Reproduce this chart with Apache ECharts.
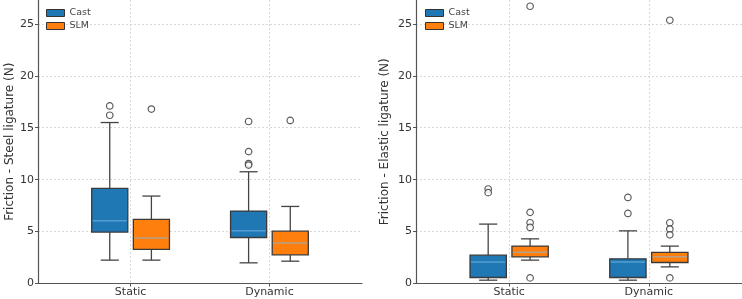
<!DOCTYPE html>
<html>
<head>
<meta charset="utf-8">
<script src="https://cdn.jsdelivr.net/npm/echarts@6/dist/echarts.min.js"></script>
<style>
html,body{margin:0;padding:0;background:#fff;}
#chart{width:742px;height:299px;}
</style>
</head>
<body>
<div id="chart"></div>
<script>
// ---- data ----
const categories = ['Static', 'Dynamic'];
const groups = ['Cast', 'SLM'];
const yTicks = [0, 5, 10, 15, 20, 25];
// stats per category: [lowerWhisker, Q1, median, Q3, upperWhisker]
const steelCastStats = [[2.25, 4.95, 6.04, 9.16, 15.5], [1.99, 4.43, 5.07, 6.97, 10.76]];
const steelSlmStats = [[2.25, 3.28, 4.37, 6.17, 8.42], [2.15, 2.76, 3.89, 5.04, 7.42]];
const steelCastOutliers = [[17.1, 16.2], [15.6, 12.7, 11.55, 11.4]];
const steelSlmOutliers = [[16.8], [15.7]];
const elasticCastStats = [[0.32, 0.58, 2.08, 2.73, 5.72], [0.32, 0.58, 2.07, 2.38, 5.07]];
const elasticSlmStats = [[2.25, 2.57, 3.02, 3.6, 4.3], [1.6, 2.02, 2.57, 2.99, 3.6]];
const elasticCastOutliers = [[9.1, 8.75], [8.29, 6.75]];
const elasticSlmOutliers = [[26.7, 6.85, 5.85, 5.4, 0.54], [25.35, 5.85, 5.24, 4.69, 0.54]];
const yNames = ['Friction - Steel ligature (N)', 'Friction - Elastic ligature (N)'];

// ---- style ----
const COLORS = {Cast: '#1f77b4', SLM: '#ff7f0e'};
const OFFSET = {Cast: -0.15, SLM: 0.15};
const BOX_W = 0.26, CAP_W = 0.13;
const EDGE = '#3a3a3a';
const MEDIAN = 'rgba(125,190,235,0.55)';
const FONT = 'DejaVu Sans';
const catPos = categories.map((c, i) => i + 1);

function boxData(stats, grp) {
  return stats.map((s, i) => [catPos[i] + OFFSET[grp]].concat(s));
}
function outlierData(outs, grp) {
  const d = [];
  outs.forEach((arr, i) => arr.forEach(v => d.push([catPos[i] + OFFSET[grp], v])));
  return d;
}
function renderBox(params, api) {
  const x = api.value(0), lo = api.value(1), q1 = api.value(2), med = api.value(3), q3 = api.value(4), hi = api.value(5);
  const tl = api.coord([x - BOX_W / 2, q3]);
  const br = api.coord([x + BOX_W / 2, q1]);
  const m1 = api.coord([x - BOX_W / 2, med]), m2 = api.coord([x + BOX_W / 2, med]);
  const pLo = api.coord([x, lo]), pHi = api.coord([x, hi]);
  const cl = api.coord([x - CAP_W / 2, lo])[0], cr = api.coord([x + CAP_W / 2, lo])[0];
  const color = api.visual('color');
  const ls = {stroke: '#444', lineWidth: 1.3};
  return {
    type: 'group',
    children: [
      {type: 'line', shape: {x1: pHi[0], y1: pHi[1], x2: pHi[0], y2: tl[1]}, style: ls},
      {type: 'line', shape: {x1: pLo[0], y1: pLo[1], x2: pLo[0], y2: br[1]}, style: ls},
      {type: 'line', shape: {x1: cl, y1: pHi[1], x2: cr, y2: pHi[1]}, style: ls},
      {type: 'line', shape: {x1: cl, y1: pLo[1], x2: cr, y2: pLo[1]}, style: ls},
      {type: 'rect', shape: {x: tl[0], y: tl[1], width: br[0] - tl[0], height: br[1] - tl[1]},
        style: {fill: color, stroke: EDGE, lineWidth: 1.3}},
      {type: 'line', shape: {x1: m1[0] + 1, y1: m1[1], x2: m2[0] - 1, y2: m2[1]}, style: {stroke: MEDIAN, lineWidth: 1.5}}
    ]
  };
}

const panels = [
  {stats: {Cast: steelCastStats, SLM: steelSlmStats}, outs: {Cast: steelCastOutliers, SLM: steelSlmOutliers}},
  {stats: {Cast: elasticCastStats, SLM: elasticSlmStats}, outs: {Cast: elasticCastOutliers, SLM: elasticSlmOutliers}}
];

const grids = [
  {left: 38, top: 0, width: 324, bottom: 15.5},
  {left: 416, top: 0, right: 0, bottom: 15.5}
];
const gridLine = {show: true, lineStyle: {color: '#cfcfcf', type: [2, 2], width: 0.8}};
const xAxes = grids.map((g, gi) => ({
  type: 'value', gridIndex: gi, min: 1 / 3, max: 8 / 3,
  axisLine: {show: true, onZero: false, lineStyle: {color: '#555', width: 1.2}},
  axisTick: {show: true, length: 3, customValues: catPos, lineStyle: {color: '#555'}},
  axisLabel: {customValues: catPos, formatter: v => categories[Math.round(v) - 1] || '',
    color: '#333', fontSize: 11, fontFamily: FONT, margin: 3},
  splitLine: gridLine
}));
const yAxes = grids.map((g, gi) => ({
  type: 'value', gridIndex: gi, min: 0, max: 27.3, interval: 5,
  name: yNames[gi], nameLocation: 'middle', nameGap: gi === 0 ? 20 : 25,
  nameTextStyle: {color: '#333', fontSize: 12, fontFamily: FONT},
  axisLine: {show: true, lineStyle: {color: '#555', width: 1.2}},
  axisTick: {show: true, length: 3, lineStyle: {color: '#555'}},
  axisLabel: {color: '#333', fontSize: 11, fontFamily: FONT, margin: 4, showMaxLabel: false,
    formatter: v => (yTicks.indexOf(v) >= 0 ? String(v) : '')},
  splitLine: Object.assign({showMaxLine: false}, gridLine)
}));

const series = [];
panels.forEach((p, pi) => {
  groups.forEach(grp => {
    series.push({
      type: 'custom', name: grp, xAxisIndex: pi, yAxisIndex: pi,
      renderItem: renderBox, itemStyle: {color: COLORS[grp]},
      encode: {x: 0, y: [1, 2, 3, 4, 5]},
      data: boxData(p.stats[grp], grp), z: 3
    });
  });
  groups.forEach(grp => {
    series.push({
      type: 'scatter', name: grp + ' outliers', xAxisIndex: pi, yAxisIndex: pi,
      symbol: 'circle', symbolSize: 6.5,
      itemStyle: {color: '#fff', borderColor: '#333', borderWidth: 1.2},
      data: outlierData(p.outs[grp], grp), z: 4
    });
  });
});

const legendData = groups.map(g => ({name: g, icon: 'rect',
  itemStyle: {color: COLORS[g], borderColor: '#333', borderWidth: 1}}));
const legends = [46, 425].map(l => ({
  left: l, top: 8, orient: 'vertical', itemWidth: 18, itemHeight: 7, itemGap: 3,
  textStyle: {color: '#444', fontSize: 9.5, fontFamily: FONT, padding: [0, 0, 0, 0]},
  selectedMode: false, data: legendData, padding: 0
}));

const chart = echarts.init(document.getElementById('chart'), null, {renderer: 'canvas'});
chart.setOption({
  animation: false,
  backgroundColor: '#fff',
  grid: grids,
  xAxis: xAxes,
  yAxis: yAxes,
  legend: legends,
  series: series
});
</script>
</body>
</html>
